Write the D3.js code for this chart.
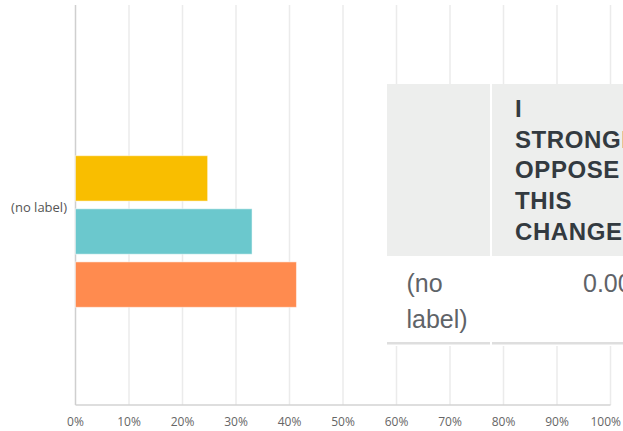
<!DOCTYPE html>
<html>
<head>
<meta charset="utf-8">
<script src="https://cdn.jsdelivr.net/npm/d3@7"></script>
<style>
  html, body { margin: 0; padding: 0; background: #fff; overflow: hidden; }
</style>
</head>
<body>
<div id="chart"></div>
<script>
const categories = ['(no label)'];
const seriesValues = [24.7, 33.0, 41.3];
const seriesColors = ['#f9be00', '#6bc8cd', '#ff8b4f'];
const tickValues = [0, 10, 20, 30, 40, 50, 60, 70, 80, 90, 100];
const tableHeader = ['', 'I STRONGLY OPPOSE THIS CHANGE'];
const tableRow = ['(no label)', '0.00%'];

const width = 623;
const height = 431;
const margin = { top: 5, right: 12.5, bottom: 26, left: 75.5 };

const svg = d3.select('#chart')
  .append('svg')
  .attr('width', width)
  .attr('height', height);

const x = d3.scaleLinear()
  .domain([0, 100])
  .range([margin.left, width - margin.right]);

const ySer = d3.scaleBand()
  .domain(d3.range(seriesValues.length))
  .range([155.7, 307.3])
  .paddingInner(0.145);

// gridlines
svg.append('g')
  .selectAll('line')
  .data(tickValues.slice(1))
  .join('line')
  .attr('x1', (d) => x(d))
  .attr('x2', (d) => x(d))
  .attr('y1', margin.top)
  .attr('y2', height - margin.bottom)
  .attr('stroke', '#ebebeb')
  .attr('stroke-width', 1.5);

// axes lines
svg.append('line')
  .attr('x1', x(0)).attr('x2', x(0))
  .attr('y1', margin.top).attr('y2', height - margin.bottom)
  .attr('stroke', '#cfcfcf')
  .attr('stroke-width', 1.5);
svg.append('line')
  .attr('x1', x(0)).attr('x2', x(100))
  .attr('y1', height - margin.bottom).attr('y2', height - margin.bottom)
  .attr('stroke', '#d3d3d3')
  .attr('stroke-width', 1.5);

// tick labels
svg.append('g')
  .attr('font-family', '"Open Sans", sans-serif')
  .attr('font-size', 12)
  .attr('fill', '#666')
  .selectAll('text')
  .data(tickValues)
  .join('text')
  .attr('x', (d) => (d === 100 ? 621 : x(d)))
  .attr('y', 426)
  .attr('text-anchor', (d) => (d === 100 ? 'end' : 'middle'))
  .text((d) => `${d}%`);

// category label
svg.append('g')
  .selectAll('text')
  .data(categories)
  .join('text')
  .attr('x', 67)
  .attr('y', 207)
  .attr('dy', '0.35em')
  .attr('text-anchor', 'end')
  .attr('font-family', '"Open Sans", sans-serif')
  .attr('font-size', 13)
  .attr('fill', '#555')
  .text((d) => d);

// bars
svg.append('g')
  .selectAll('rect')
  .data(seriesValues)
  .join('rect')
  .attr('x', x(0))
  .attr('y', (d, i) => ySer(i))
  .attr('width', (d) => x(d) - x(0))
  .attr('height', ySer.bandwidth())
  .attr('fill', (d, i) => seriesColors[i])
  .attr('stroke', '#fff')
  .attr('stroke-opacity', 0.5)
  .attr('stroke-width', 1);

// overlay table
const table = svg.append('g').attr('font-family', '"Liberation Sans", Arial, sans-serif');
const colX = [387, 492];
const colW = [103, 160];

table.append('rect')
  .attr('x', 386).attr('y', 84)
  .attr('width', 260).attr('height', 262)
  .attr('fill', '#fff');

table.selectAll('rect.head')
  .data(tableHeader)
  .join('rect')
  .attr('class', 'head')
  .attr('x', (d, i) => colX[i])
  .attr('y', 84)
  .attr('width', (d, i) => colW[i])
  .attr('height', 172)
  .attr('fill', '#edeeed');

table.selectAll('rect.border')
  .data(tableRow)
  .join('rect')
  .attr('class', 'border')
  .attr('x', (d, i) => colX[i])
  .attr('y', 342)
  .attr('width', (d, i) => colW[i])
  .attr('height', 2.5)
  .attr('fill', '#dedede');

const headLines = tableHeader[1].split(' ');
table.append('text')
  .attr('font-size', 24)
  .attr('font-weight', 'bold')
  .attr('letter-spacing', 0.6)
  .attr('fill', '#333a40')
  .selectAll('tspan')
  .data(headLines)
  .join('tspan')
  .attr('x', 515)
  .attr('y', (d, i) => 117 + i * 30.7)
  .text((d) => d);

const rowLines = tableRow[0].split(' ');
table.append('text')
  .attr('font-size', 25)
  .attr('fill', '#5f6368')
  .selectAll('tspan')
  .data(rowLines)
  .join('tspan')
  .attr('x', 406.5)
  .attr('y', (d, i) => 292 + i * 36)
  .text((d) => d);

table.append('text')
  .attr('x', 583)
  .attr('y', 292)
  .attr('font-size', 25)
  .attr('fill', '#5f6368')
  .text(tableRow[1]);
</script>
</body>
</html>
